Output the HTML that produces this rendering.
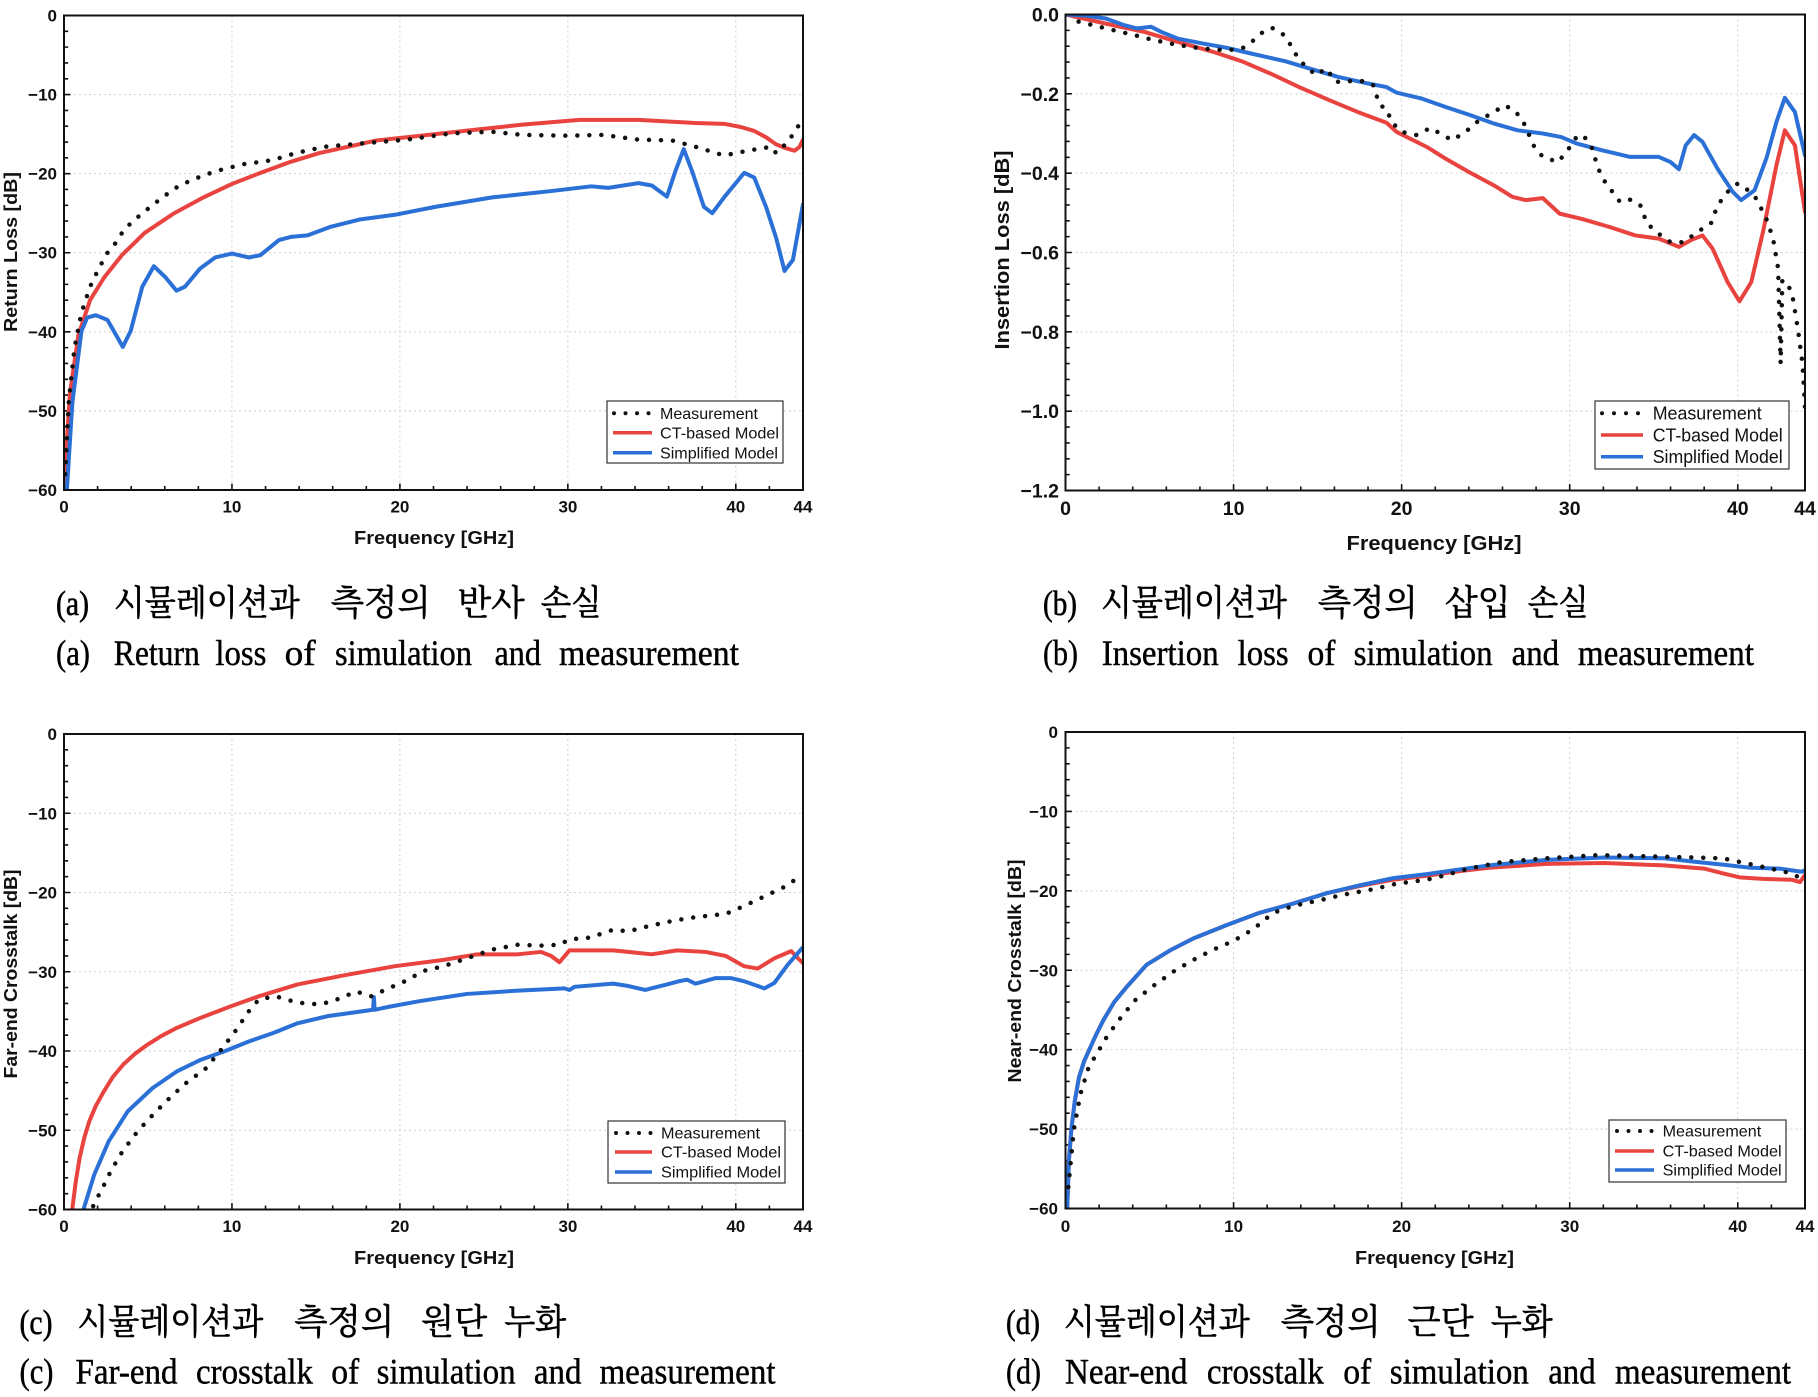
<!DOCTYPE html>
<html><head><meta charset="utf-8"><style>
html,body{margin:0;padding:0;background:#fff;}
svg{display:block;}
.tl{font-family:"Liberation Sans",Arial,sans-serif;font-weight:bold;fill:#111;}
.lg{font-family:"Liberation Sans",Arial,sans-serif;fill:#111;}
.ce{font-family:"Liberation Serif","Times New Roman",serif;fill:#000;font-size:36px;stroke:#000;stroke-width:0.45px;}
.ck{font-family:"Liberation Serif","Noto Serif CJK SC","Noto Serif CJK KR",serif;fill:#000;font-size:35px;stroke:#000;stroke-width:0.6px;}
</style></head><body>
<svg width="1818" height="1397" viewBox="0 0 1818 1397" xmlns="http://www.w3.org/2000/svg">
<rect width="1818" height="1397" fill="#fff"/>
<defs>
<clipPath id="ca"><rect x="64" y="15.5" width="739" height="474.5"/></clipPath>
<clipPath id="cb"><rect x="1065.5" y="14.5" width="739.5" height="476"/></clipPath>
<clipPath id="cc"><rect x="64" y="734" width="739" height="475.5"/></clipPath>
<clipPath id="cd"><rect x="1065.5" y="732" width="739.5" height="476.5"/></clipPath>
</defs>

<!-- ================= PANEL A ================= -->
<g transform="translate(64 15.5) scale(16.795 -7.908)">
<path d="M10 0V-60M20 0V-60M30 0V-60M40 0V-60M0 -10H44M0 -20H44M0 -30H44M0 -40H44M0 -50H44" fill="none" stroke="#cfcfcf" stroke-width="1" stroke-dasharray="2 3" vector-effect="non-scaling-stroke"/>
<path d="M2 -60v0.5M4 -60v0.5M6 -60v0.5M8 -60v0.5M12 -60v0.5M14 -60v0.5M16 -60v0.5M18 -60v0.5M22 -60v0.5M24 -60v0.5M26 -60v0.5M28 -60v0.5M32 -60v0.5M34 -60v0.5M36 -60v0.5M38 -60v0.5M42 -60v0.5M10 -60v0.8M20 -60v0.8M30 -60v0.8M40 -60v0.8M0 -2h0.25M0 -4h0.25M0 -6h0.25M0 -8h0.25M0 -12h0.25M0 -14h0.25M0 -16h0.25M0 -18h0.25M0 -22h0.25M0 -24h0.25M0 -26h0.25M0 -28h0.25M0 -32h0.25M0 -34h0.25M0 -36h0.25M0 -38h0.25M0 -42h0.25M0 -44h0.25M0 -46h0.25M0 -48h0.25M0 -52h0.25M0 -54h0.25M0 -56h0.25M0 -58h0.25M0 -10h0.38M0 -20h0.38M0 -30h0.38M0 -40h0.38M0 -50h0.38" fill="none" stroke="#111" stroke-width="1.6" vector-effect="non-scaling-stroke"/>
</g>
<g clip-path="url(#ca)"><g transform="translate(64 15.5) scale(16.795 -7.908)">
<polyline points="0.02,-63 0.07,-57.3 0.35,-47.8 0.86,-40.4 1.55,-36 2.4,-33.1 3.45,-30.3 4.8,-27.5 6.56,-25 8.3,-23 10,-21.3 11.7,-19.9 13.5,-18.5 15.2,-17.4 16.9,-16.6 18.6,-15.8 20.4,-15.4 23.8,-14.6 27.3,-13.8 30.7,-13.2 34.2,-13.2 37.6,-13.6 39.3,-13.7 40.3,-14.1 41.1,-14.6 41.8,-15.4 42.4,-16.3 43,-16.8 43.5,-17.1 43.8,-16.6 44,-15.7" fill="none" stroke="#e8433f" stroke-width="4" stroke-linejoin="round" stroke-linecap="round" vector-effect="non-scaling-stroke"/>
<polyline points="0.12,-63 0.17,-60 0.5,-48.9 1.04,-39.9 1.38,-38.2 1.9,-37.9 2.59,-38.5 3.1,-40.4 3.5,-41.9 3.97,-39.9 4.66,-34.3 5.35,-31.7 6.04,-33.1 6.7,-34.8 7.2,-34.3 8.1,-32 9,-30.6 10,-30.1 11,-30.6 11.7,-30.3 12.8,-28.4 13.5,-28 14.5,-27.8 15.9,-26.7 17.6,-25.8 19.7,-25.2 22.1,-24.2 25.5,-23 29,-22.2 31.4,-21.6 32.4,-21.8 34.2,-21.2 35,-21.5 35.9,-22.9 36.4,-19.7 36.9,-16.9 37.4,-19.7 38.1,-24.2 38.6,-25 39.3,-23 40.5,-19.9 41.1,-20.5 41.8,-24.2 42.4,-28.1 42.9,-32.3 43.4,-30.9 44,-23.9" fill="none" stroke="#2b70d6" stroke-width="4" stroke-linejoin="round" stroke-linecap="round" vector-effect="non-scaling-stroke"/>
<polyline points="0.07,-58 0.28,-48.9 0.62,-42.1 1.04,-37.6 1.55,-34.3 2.07,-32 2.59,-30 3.1,-28.7 3.6,-27 4.5,-25.3 5.5,-23.6 6.56,-21.9 7.6,-20.8 9,-19.7 10.7,-18.8 12.4,-18.3 13.8,-17.4 15.5,-16.6 17.6,-16.2 20.4,-15.7 23.1,-14.9 25.5,-14.7 27.3,-15.1 30,-15.2 32.1,-15.1 34.2,-15.7 36.2,-15.8 37.6,-16.6 39.3,-17.7 40.7,-17.1 42.1,-16.6 42.4,-17.4 43.1,-16 43.9,-13.4" fill="none" stroke="#111" stroke-width="4.5" stroke-dasharray="0 12" stroke-linecap="round" vector-effect="non-scaling-stroke"/>
</g></g>
<rect x="64" y="15.5" width="739" height="474.5" fill="none" stroke="#111" stroke-width="2"/>
<g class="tl" font-size="17" text-anchor="end">
<text x="57" y="21.5">0</text><text x="57" y="100.6">−10</text><text x="57" y="179.7">−20</text><text x="57" y="258.7">−30</text><text x="57" y="337.8">−40</text><text x="57" y="416.9">−50</text><text x="57" y="496">−60</text>
</g>
<g class="tl" font-size="17" text-anchor="middle">
<text x="64" y="512.5">0</text><text x="231.9" y="512.5">10</text><text x="399.9" y="512.5">20</text><text x="567.9" y="512.5">30</text><text x="735.8" y="512.5">40</text><text x="803" y="512.5">44</text>
</g>
<text class="tl" font-size="18" text-anchor="middle" x="434" y="544" textLength="160" lengthAdjust="spacingAndGlyphs">Frequency [GHz]</text>
<text class="tl" font-size="18" text-anchor="middle" transform="translate(17 252) rotate(-90)" textLength="160" lengthAdjust="spacingAndGlyphs">Return Loss [dB]</text>
<rect x="607" y="401" width="176" height="62" fill="#fff" stroke="#333" stroke-width="1.2"/>
<path d="M614 413.3H650" stroke="#111" stroke-width="4" stroke-dasharray="0 11.5" stroke-linecap="round"/>
<path d="M613 432.7H652" stroke="#e8433f" stroke-width="3.5"/>
<path d="M613 452.7H652" stroke="#2b70d6" stroke-width="3.5"/>
<g class="lg" font-size="16">
<text x="660" y="419" textLength="98" lengthAdjust="spacingAndGlyphs">Measurement</text>
<text x="660" y="438.4" textLength="119" lengthAdjust="spacingAndGlyphs">CT-based Model</text>
<text x="660" y="458.4" textLength="118" lengthAdjust="spacingAndGlyphs">Simplified Model</text>
</g>

<!-- ================= PANEL B ================= -->
<g transform="translate(1065.5 14.5) scale(16.807 -396.67)">
<path d="M10 0V-1.2M20 0V-1.2M30 0V-1.2M40 0V-1.2M0 -0.2H44M0 -0.4H44M0 -0.6H44M0 -0.8H44M0 -1H44" fill="none" stroke="#cfcfcf" stroke-width="1" stroke-dasharray="2 3" vector-effect="non-scaling-stroke"/>
<path d="M2 -1.2v0.01M4 -1.2v0.01M6 -1.2v0.01M8 -1.2v0.01M12 -1.2v0.01M14 -1.2v0.01M16 -1.2v0.01M18 -1.2v0.01M22 -1.2v0.01M24 -1.2v0.01M26 -1.2v0.01M28 -1.2v0.01M32 -1.2v0.01M34 -1.2v0.01M36 -1.2v0.01M38 -1.2v0.01M42 -1.2v0.01M10 -1.2v0.016M20 -1.2v0.016M30 -1.2v0.016M40 -1.2v0.016M0 -0.04h0.25M0 -0.08h0.25M0 -0.12h0.25M0 -0.16h0.25M0 -0.24h0.25M0 -0.28h0.25M0 -0.32h0.25M0 -0.36h0.25M0 -0.44h0.25M0 -0.48h0.25M0 -0.52h0.25M0 -0.56h0.25M0 -0.64h0.25M0 -0.68h0.25M0 -0.72h0.25M0 -0.76h0.25M0 -0.84h0.25M0 -0.88h0.25M0 -0.92h0.25M0 -0.96h0.25M0 -1.04h0.25M0 -1.08h0.25M0 -1.12h0.25M0 -1.16h0.25M0 -0.2h0.38M0 -0.4h0.38M0 -0.6h0.38M0 -0.8h0.38M0 -1h0.38" fill="none" stroke="#111" stroke-width="1.6" vector-effect="non-scaling-stroke"/>
</g>
<g clip-path="url(#cb)"><g transform="translate(1065.5 14.5) scale(16.807 -396.67)">
<polyline points="0,0 2.4,-0.023 4.7,-0.044 7,-0.073 8.7,-0.093 10.5,-0.118 12.2,-0.149 13.9,-0.183 15.7,-0.216 17.4,-0.246 19.1,-0.273 19.7,-0.296 21.5,-0.334 22.6,-0.363 24,-0.397 25.5,-0.431 26.6,-0.46 27.4,-0.468 28.4,-0.463 29.4,-0.502 30.7,-0.515 32.4,-0.536 33.9,-0.557 35.3,-0.565 36.5,-0.586 37.2,-0.569 37.9,-0.557 38.5,-0.59 39.4,-0.675 40.1,-0.723 40.8,-0.675 41.5,-0.548 42.3,-0.38 42.8,-0.292 43.4,-0.33 44,-0.498" fill="none" stroke="#e8433f" stroke-width="4" stroke-linejoin="round" stroke-linecap="round" vector-effect="non-scaling-stroke"/>
<polyline points="0,0 1.2,-0.003 2.4,-0.01 3.5,-0.027 4.25,-0.035 5.1,-0.031 5.7,-0.044 6.7,-0.061 8.15,-0.073 9.6,-0.084 11,-0.098 13.1,-0.118 14.5,-0.136 16.2,-0.157 18,-0.174 19.1,-0.183 19.7,-0.197 21.2,-0.212 22.6,-0.233 24.1,-0.254 25.5,-0.275 26.9,-0.292 28.4,-0.3 29.5,-0.309 30.4,-0.325 31.9,-0.342 33.6,-0.359 35.3,-0.359 36,-0.372 36.5,-0.39 36.9,-0.33 37.4,-0.304 37.9,-0.321 38.8,-0.389 39.7,-0.447 40.2,-0.468 41,-0.443 41.7,-0.363 42.3,-0.271 42.8,-0.21 43.4,-0.246 44,-0.355" fill="none" stroke="#2b70d6" stroke-width="4" stroke-linejoin="round" stroke-linecap="round" vector-effect="non-scaling-stroke"/>
<polyline points="0.78,-0.018 2.4,-0.035 4.1,-0.052 5.3,-0.065 6.7,-0.077 8.15,-0.086 9.6,-0.09 10.5,-0.086 11.2,-0.065 11.8,-0.042 12.3,-0.034 12.9,-0.048 13.4,-0.077 13.9,-0.115 14.9,-0.153 15.5,-0.136 16.1,-0.17 16.8,-0.168 17.7,-0.168 18.3,-0.178 18.7,-0.229 19.1,-0.237 19.4,-0.271 20,-0.296 20.9,-0.304 21.7,-0.286 22.3,-0.3 23,-0.317 23.8,-0.296 24.6,-0.267 25.5,-0.246 26.1,-0.229 26.7,-0.241 27.2,-0.267 27.9,-0.334 28.4,-0.359 29.3,-0.372 29.8,-0.347 30.4,-0.309 30.8,-0.304 31.3,-0.334 31.7,-0.389 32.1,-0.422 33,-0.473 33.6,-0.467 34.2,-0.481 34.6,-0.527 35.3,-0.553 36,-0.574 36.8,-0.574 37.6,-0.548 38.4,-0.527 38.8,-0.481 39.4,-0.447 40,-0.426 40.5,-0.439 41.1,-0.464 41.7,-0.515 42.1,-0.565 42.4,-0.64 42.55,-0.88 42.65,-0.67 43,-0.68 43.3,-0.72 43.6,-0.8 43.85,-0.88 44,-0.99" fill="none" stroke="#111" stroke-width="4.5" stroke-dasharray="0 12" stroke-linecap="round" vector-effect="non-scaling-stroke"/>
</g></g>
<rect x="1065.5" y="14.5" width="739.5" height="476" fill="none" stroke="#111" stroke-width="2"/>
<g class="tl" font-size="19.5" text-anchor="end">
<text x="1059" y="21.5">0.0</text><text x="1059" y="100.8">−0.2</text><text x="1059" y="180.2">−0.4</text><text x="1059" y="259.5">−0.6</text><text x="1059" y="338.8">−0.8</text><text x="1059" y="418.2">−1.0</text><text x="1059" y="497.5">−1.2</text>
</g>
<g class="tl" font-size="19.5" text-anchor="middle">
<text x="1065.5" y="515">0</text><text x="1233.6" y="515">10</text><text x="1401.6" y="515">20</text><text x="1569.7" y="515">30</text><text x="1737.8" y="515">40</text><text x="1805" y="515">44</text>
</g>
<text class="tl" font-size="20" text-anchor="middle" x="1434" y="550" textLength="175" lengthAdjust="spacingAndGlyphs">Frequency [GHz]</text>
<text class="tl" font-size="20" text-anchor="middle" transform="translate(1009 250) rotate(-90)" textLength="199" lengthAdjust="spacingAndGlyphs">Insertion Loss [dB]</text>
<rect x="1595" y="401" width="194" height="68" fill="#fff" stroke="#333" stroke-width="1.2"/>
<path d="M1602 413.3H1641" stroke="#111" stroke-width="4" stroke-dasharray="0 12" stroke-linecap="round"/>
<path d="M1601 435H1643" stroke="#e8433f" stroke-width="3.5"/>
<path d="M1601 456.7H1643" stroke="#2b70d6" stroke-width="3.5"/>
<g class="lg" font-size="18">
<text x="1652.7" y="419.6" textLength="109" lengthAdjust="spacingAndGlyphs">Measurement</text>
<text x="1652.7" y="441.3" textLength="130" lengthAdjust="spacingAndGlyphs">CT-based Model</text>
<text x="1652.7" y="463" textLength="130" lengthAdjust="spacingAndGlyphs">Simplified Model</text>
</g>

<!-- ================= PANEL C ================= -->
<g transform="translate(64 734) scale(16.795 -7.925)">
<path d="M10 0V-60M20 0V-60M30 0V-60M40 0V-60M0 -10H44M0 -20H44M0 -30H44M0 -40H44M0 -50H44" fill="none" stroke="#cfcfcf" stroke-width="1" stroke-dasharray="2 3" vector-effect="non-scaling-stroke"/>
<path d="M2 -60v0.5M4 -60v0.5M6 -60v0.5M8 -60v0.5M12 -60v0.5M14 -60v0.5M16 -60v0.5M18 -60v0.5M22 -60v0.5M24 -60v0.5M26 -60v0.5M28 -60v0.5M32 -60v0.5M34 -60v0.5M36 -60v0.5M38 -60v0.5M42 -60v0.5M10 -60v0.8M20 -60v0.8M30 -60v0.8M40 -60v0.8M0 -2h0.25M0 -4h0.25M0 -6h0.25M0 -8h0.25M0 -12h0.25M0 -14h0.25M0 -16h0.25M0 -18h0.25M0 -22h0.25M0 -24h0.25M0 -26h0.25M0 -28h0.25M0 -32h0.25M0 -34h0.25M0 -36h0.25M0 -38h0.25M0 -42h0.25M0 -44h0.25M0 -46h0.25M0 -48h0.25M0 -52h0.25M0 -54h0.25M0 -56h0.25M0 -58h0.25M0 -10h0.38M0 -20h0.38M0 -30h0.38M0 -40h0.38M0 -50h0.38" fill="none" stroke="#111" stroke-width="1.6" vector-effect="non-scaling-stroke"/>
</g>
<g clip-path="url(#cc)"><g transform="translate(64 734) scale(16.795 -7.925)">
<polyline points="0.3,-64 0.49,-60 0.7,-56.5 0.93,-53.5 1.2,-51 1.5,-48.9 1.9,-46.9 2.37,-45.1 2.9,-43.3 3.53,-41.7 4.2,-40.4 4.97,-39.2 5.8,-38.1 6.7,-37.1 8.15,-35.8 9.88,-34.4 11.6,-33.1 13.9,-31.6 16.8,-30.4 19.7,-29.3 22.6,-28.5 24.6,-27.8 27,-27.8 28.4,-27.5 29,-28 29.5,-28.8 30.1,-27.3 32.7,-27.3 35,-27.8 36.5,-27.3 38.2,-27.5 39.4,-28 40.5,-29.3 41.3,-29.6 42.3,-28.3 43.3,-27.4 43.7,-28.3 44,-28.9" fill="none" stroke="#e8433f" stroke-width="4" stroke-linejoin="round" stroke-linecap="round" vector-effect="non-scaling-stroke"/>
<polyline points="0.95,-62 1.16,-60 1.8,-55.6 2.66,-51.4 3.8,-47.6 5.26,-44.7 6.7,-42.6 8.15,-41.1 9.6,-40 11,-38.8 12.5,-37.7 13.9,-36.5 15.7,-35.6 17.4,-35.1 18.4,-34.8 18.45,-33.2 18.5,-34.8 19.4,-34.4 21.2,-33.7 24,-32.8 26.9,-32.4 29.8,-32.1 30.1,-32.3 30.4,-31.9 32.7,-31.5 33.6,-31.8 34.6,-32.3 35.9,-31.6 36.6,-31.2 37.1,-31 37.6,-31.5 38.8,-30.8 39.7,-30.8 40.5,-31.2 41.7,-32.1 42.3,-31.4 43.1,-29.1 44,-26.9" fill="none" stroke="#2b70d6" stroke-width="4" stroke-linejoin="round" stroke-linecap="round" vector-effect="non-scaling-stroke"/>
<polyline points="1.5,-61 1.8,-59.2 2.2,-57.7 2.8,-55.1 3.5,-52.6 4.4,-50.1 5.4,-47.8 6.4,-45.7 7.4,-43.8 8.4,-42.3 9.3,-40 10.2,-37.5 11,-35 11.6,-33.5 12.6,-33.1 13.9,-33.9 15.1,-34.1 15.9,-33.8 17.4,-32.5 18.3,-33.1 19.1,-32.3 20.3,-31.2 21.4,-29.9 22.6,-29.3 24,-28.3 25.5,-27.2 27,-26.6 28.4,-26.7 29.5,-26.6 30.1,-25.9 31.3,-25.7 32.7,-24.7 33.6,-24.9 34.7,-24.3 36.2,-23.6 37.3,-23.2 38.5,-22.9 39.4,-22.7 40.5,-21.7 41.7,-20.5 42.8,-19.4 43.6,-18.3" fill="none" stroke="#111" stroke-width="4.5" stroke-dasharray="0 12" stroke-linecap="round" vector-effect="non-scaling-stroke"/>
</g></g>
<rect x="64" y="734" width="739" height="475.5" fill="none" stroke="#111" stroke-width="2"/>
<g class="tl" font-size="17" text-anchor="end">
<text x="57" y="740">0</text><text x="57" y="819.3">−10</text><text x="57" y="898.5">−20</text><text x="57" y="977.8">−30</text><text x="57" y="1057">−40</text><text x="57" y="1136.3">−50</text><text x="57" y="1215.5">−60</text>
</g>
<g class="tl" font-size="17" text-anchor="middle">
<text x="64" y="1232">0</text><text x="231.9" y="1232">10</text><text x="399.9" y="1232">20</text><text x="567.9" y="1232">30</text><text x="735.8" y="1232">40</text><text x="803" y="1232">44</text>
</g>
<text class="tl" font-size="18" text-anchor="middle" x="434" y="1264" textLength="160" lengthAdjust="spacingAndGlyphs">Frequency [GHz]</text>
<text class="tl" font-size="18" text-anchor="middle" transform="translate(17 974) rotate(-90)" textLength="209" lengthAdjust="spacingAndGlyphs">Far-end Crosstalk [dB]</text>
<rect x="608" y="1121" width="177" height="62" fill="#fff" stroke="#333" stroke-width="1.2"/>
<path d="M616 1133H651" stroke="#111" stroke-width="4" stroke-dasharray="0 11.5" stroke-linecap="round"/>
<path d="M615 1152H652" stroke="#e8433f" stroke-width="3.5"/>
<path d="M615 1172H652" stroke="#2b70d6" stroke-width="3.5"/>
<g class="lg" font-size="16">
<text x="661" y="1138.7" textLength="99" lengthAdjust="spacingAndGlyphs">Measurement</text>
<text x="661" y="1157.7" textLength="120" lengthAdjust="spacingAndGlyphs">CT-based Model</text>
<text x="661" y="1177.7" textLength="120" lengthAdjust="spacingAndGlyphs">Simplified Model</text>
</g>

<!-- ================= PANEL D ================= -->
<g transform="translate(1065.5 732) scale(16.807 -7.942)">
<path d="M10 0V-60M20 0V-60M30 0V-60M40 0V-60M0 -10H44M0 -20H44M0 -30H44M0 -40H44M0 -50H44" fill="none" stroke="#cfcfcf" stroke-width="1" stroke-dasharray="2 3" vector-effect="non-scaling-stroke"/>
<path d="M2 -60v0.5M4 -60v0.5M6 -60v0.5M8 -60v0.5M12 -60v0.5M14 -60v0.5M16 -60v0.5M18 -60v0.5M22 -60v0.5M24 -60v0.5M26 -60v0.5M28 -60v0.5M32 -60v0.5M34 -60v0.5M36 -60v0.5M38 -60v0.5M42 -60v0.5M10 -60v0.8M20 -60v0.8M30 -60v0.8M40 -60v0.8M0 -2h0.25M0 -4h0.25M0 -6h0.25M0 -8h0.25M0 -12h0.25M0 -14h0.25M0 -16h0.25M0 -18h0.25M0 -22h0.25M0 -24h0.25M0 -26h0.25M0 -28h0.25M0 -32h0.25M0 -34h0.25M0 -36h0.25M0 -38h0.25M0 -42h0.25M0 -44h0.25M0 -46h0.25M0 -48h0.25M0 -52h0.25M0 -54h0.25M0 -56h0.25M0 -58h0.25M0 -10h0.38M0 -20h0.38M0 -30h0.38M0 -40h0.38M0 -50h0.38" fill="none" stroke="#111" stroke-width="1.6" vector-effect="non-scaling-stroke"/>
</g>
<g clip-path="url(#cd)"><g transform="translate(1065.5 732) scale(16.807 -7.942)">
<polyline points="0.05,-64 0.1,-60 0.2,-54 0.35,-50 0.55,-46.5 0.8,-43.5 1.1,-41.5 1.46,-39.8 1.8,-38.2 2.25,-36.3 2.9,-34 3.64,-32.1 4.83,-29.3 6.22,-27.5 7.6,-26 9.6,-24.3 11.57,-22.75 13.55,-21.6 15.54,-20.3 17.5,-19.4 19.5,-18.6 21.5,-18.1 23.5,-17.5 25.2,-17.1 28.6,-16.6 32.1,-16.5 35.6,-16.8 38,-17.2 39.1,-17.8 40.1,-18.3 41.5,-18.5 43.2,-18.6 43.7,-18.9 44,-18" fill="none" stroke="#e8433f" stroke-width="4" stroke-linejoin="round" stroke-linecap="round" vector-effect="non-scaling-stroke"/>
<polyline points="0.05,-64 0.1,-60 0.2,-54 0.35,-50 0.55,-46.5 0.8,-43.5 1.1,-41.5 1.46,-39.8 1.8,-38.2 2.25,-36.3 2.9,-34 3.64,-32.1 4.83,-29.3 6.22,-27.5 7.6,-26 9.6,-24.3 11.57,-22.75 13.55,-21.6 15.54,-20.3 17.5,-19.3 19.5,-18.4 21.5,-17.9 23.5,-17.3 25.2,-16.8 28.6,-16.1 32.1,-15.8 35.6,-15.9 37.3,-16.3 39.1,-16.7 40.8,-17.1 42.5,-17.2 43.8,-17.6 44,-17.4" fill="none" stroke="#2b70d6" stroke-width="4" stroke-linejoin="round" stroke-linecap="round" vector-effect="non-scaling-stroke"/>
<polyline points="0.17,-57.3 0.5,-50 0.9,-45.5 1.38,-42.2 2.09,-39.7 2.45,-38.4 3.2,-36.2 4.13,-33.8 5.27,-31.9 6.47,-30.1 7.6,-28.7 8.8,-27.4 10,-26.3 11.2,-24.8 11.8,-23.7 12.4,-22.75 13.55,-21.9 15.1,-21.2 16.5,-20.5 18.3,-19.8 19.7,-19.1 21.5,-18.6 22.3,-18.2 24,-17.2 25.9,-16.4 28.6,-15.9 31.7,-15.5 35.6,-15.7 39.1,-15.9 41.1,-16.8 43.2,-17.8 43.8,-18.5" fill="none" stroke="#111" stroke-width="4.5" stroke-dasharray="0 12" stroke-linecap="round" vector-effect="non-scaling-stroke"/>
</g></g>
<rect x="1065.5" y="732" width="739.5" height="476.5" fill="none" stroke="#111" stroke-width="2"/>
<g class="tl" font-size="17" text-anchor="end">
<text x="1058" y="738">0</text><text x="1058" y="817.4">−10</text><text x="1058" y="896.8">−20</text><text x="1058" y="976.3">−30</text><text x="1058" y="1055.7">−40</text><text x="1058" y="1135.1">−50</text><text x="1058" y="1214.5">−60</text>
</g>
<g class="tl" font-size="17" text-anchor="middle">
<text x="1065.5" y="1232">0</text><text x="1233.6" y="1232">10</text><text x="1401.6" y="1232">20</text><text x="1569.7" y="1232">30</text><text x="1737.8" y="1232">40</text><text x="1805" y="1232">44</text>
</g>
<text class="tl" font-size="18" text-anchor="middle" x="1434.5" y="1264" textLength="159" lengthAdjust="spacingAndGlyphs">Frequency [GHz]</text>
<text class="tl" font-size="18" text-anchor="middle" transform="translate(1021 971) rotate(-90)" textLength="223" lengthAdjust="spacingAndGlyphs">Near-end Crosstalk [dB]</text>
<rect x="1609" y="1120" width="177" height="62" fill="#fff" stroke="#333" stroke-width="1.2"/>
<path d="M1617 1131H1652" stroke="#111" stroke-width="4" stroke-dasharray="0 11.5" stroke-linecap="round"/>
<path d="M1615 1151H1654" stroke="#e8433f" stroke-width="3.5"/>
<path d="M1615 1170H1654" stroke="#2b70d6" stroke-width="3.5"/>
<g class="lg" font-size="16">
<text x="1662.6" y="1136.7" textLength="98.6" lengthAdjust="spacingAndGlyphs">Measurement</text>
<text x="1662.6" y="1156.7" textLength="119" lengthAdjust="spacingAndGlyphs">CT-based Model</text>
<text x="1662.6" y="1175.7" textLength="119" lengthAdjust="spacingAndGlyphs">Simplified Model</text>
</g>

<!-- ================= CAPTIONS ================= -->
<g class="ck">
<text x="56" y="615" textLength="33" lengthAdjust="spacingAndGlyphs">(a)</text>
<text x="113.8" y="615" textLength="186" lengthAdjust="spacingAndGlyphs">시뮬레이션과</text>
<text x="330.7" y="615" textLength="100" lengthAdjust="spacingAndGlyphs">측정의</text>
<text x="457.6" y="615" textLength="67" lengthAdjust="spacingAndGlyphs">반사</text>
<text x="540.7" y="615" textLength="61" lengthAdjust="spacingAndGlyphs">손실</text>

<text x="1043" y="615" textLength="34" lengthAdjust="spacingAndGlyphs">(b)</text>
<text x="1100.9" y="615" textLength="186" lengthAdjust="spacingAndGlyphs">시뮬레이션과</text>
<text x="1317.8" y="615" textLength="100" lengthAdjust="spacingAndGlyphs">측정의</text>
<text x="1444.7" y="615" textLength="66" lengthAdjust="spacingAndGlyphs">삽입</text>
<text x="1527.8" y="615" textLength="61" lengthAdjust="spacingAndGlyphs">손실</text>

<text x="19.5" y="1334" textLength="33" lengthAdjust="spacingAndGlyphs">(c)</text>
<text x="77.3" y="1334" textLength="186" lengthAdjust="spacingAndGlyphs">시뮬레이션과</text>
<text x="294.2" y="1334" textLength="100" lengthAdjust="spacingAndGlyphs">측정의</text>
<text x="421.1" y="1334" textLength="66" lengthAdjust="spacingAndGlyphs">원단</text>
<text x="504.2" y="1334" textLength="62" lengthAdjust="spacingAndGlyphs">누화</text>

<text x="1006" y="1334" textLength="34" lengthAdjust="spacingAndGlyphs">(d)</text>
<text x="1063.8" y="1334" textLength="186" lengthAdjust="spacingAndGlyphs">시뮬레이션과</text>
<text x="1280.7" y="1334" textLength="100" lengthAdjust="spacingAndGlyphs">측정의</text>
<text x="1407.6" y="1334" textLength="66" lengthAdjust="spacingAndGlyphs">근단</text>
<text x="1490.7" y="1334" textLength="62" lengthAdjust="spacingAndGlyphs">누화</text>
</g>
<g class="ce">
<text x="56" y="665" textLength="34" lengthAdjust="spacingAndGlyphs">(a)</text>
<text x="113.8" y="665" textLength="86" lengthAdjust="spacingAndGlyphs">Return</text>
<text x="215.4" y="665" textLength="51" lengthAdjust="spacingAndGlyphs">loss</text>
<text x="284.6" y="665" textLength="31" lengthAdjust="spacingAndGlyphs">of</text>
<text x="335" y="665" textLength="137" lengthAdjust="spacingAndGlyphs">simulation</text>
<text x="494.5" y="665" textLength="46.5" lengthAdjust="spacingAndGlyphs">and</text>
<text x="559" y="665" textLength="180" lengthAdjust="spacingAndGlyphs">measurement</text>

<text x="1043" y="665" textLength="35" lengthAdjust="spacingAndGlyphs">(b)</text>
<text x="1101.7" y="665" textLength="117" lengthAdjust="spacingAndGlyphs">Insertion</text>
<text x="1237.6" y="665" textLength="51" lengthAdjust="spacingAndGlyphs">loss</text>
<text x="1307.5" y="665" textLength="28" lengthAdjust="spacingAndGlyphs">of</text>
<text x="1353.6" y="665" textLength="139" lengthAdjust="spacingAndGlyphs">simulation</text>
<text x="1511.6" y="665" textLength="47.5" lengthAdjust="spacingAndGlyphs">and</text>
<text x="1577.9" y="665" textLength="176" lengthAdjust="spacingAndGlyphs">measurement</text>

<text x="19.5" y="1383.5" textLength="34" lengthAdjust="spacingAndGlyphs">(c)</text>
<text x="75.5" y="1383.5" textLength="102" lengthAdjust="spacingAndGlyphs">Far-end</text>
<text x="196" y="1383.5" textLength="117" lengthAdjust="spacingAndGlyphs">crosstalk</text>
<text x="331.2" y="1383.5" textLength="28" lengthAdjust="spacingAndGlyphs">of</text>
<text x="376.6" y="1383.5" textLength="139" lengthAdjust="spacingAndGlyphs">simulation</text>
<text x="533.9" y="1383.5" textLength="47.5" lengthAdjust="spacingAndGlyphs">and</text>
<text x="599.5" y="1383.5" textLength="176" lengthAdjust="spacingAndGlyphs">measurement</text>

<text x="1006" y="1383.5" textLength="35" lengthAdjust="spacingAndGlyphs">(d)</text>
<text x="1065" y="1383.5" textLength="122.5" lengthAdjust="spacingAndGlyphs">Near-end</text>
<text x="1206.9" y="1383.5" textLength="117" lengthAdjust="spacingAndGlyphs">crosstalk</text>
<text x="1343.2" y="1383.5" textLength="28" lengthAdjust="spacingAndGlyphs">of</text>
<text x="1389.8" y="1383.5" textLength="139" lengthAdjust="spacingAndGlyphs">simulation</text>
<text x="1548.2" y="1383.5" textLength="47.5" lengthAdjust="spacingAndGlyphs">and</text>
<text x="1615" y="1383.5" textLength="176" lengthAdjust="spacingAndGlyphs">measurement</text>
</g>
</svg>
</body></html>
